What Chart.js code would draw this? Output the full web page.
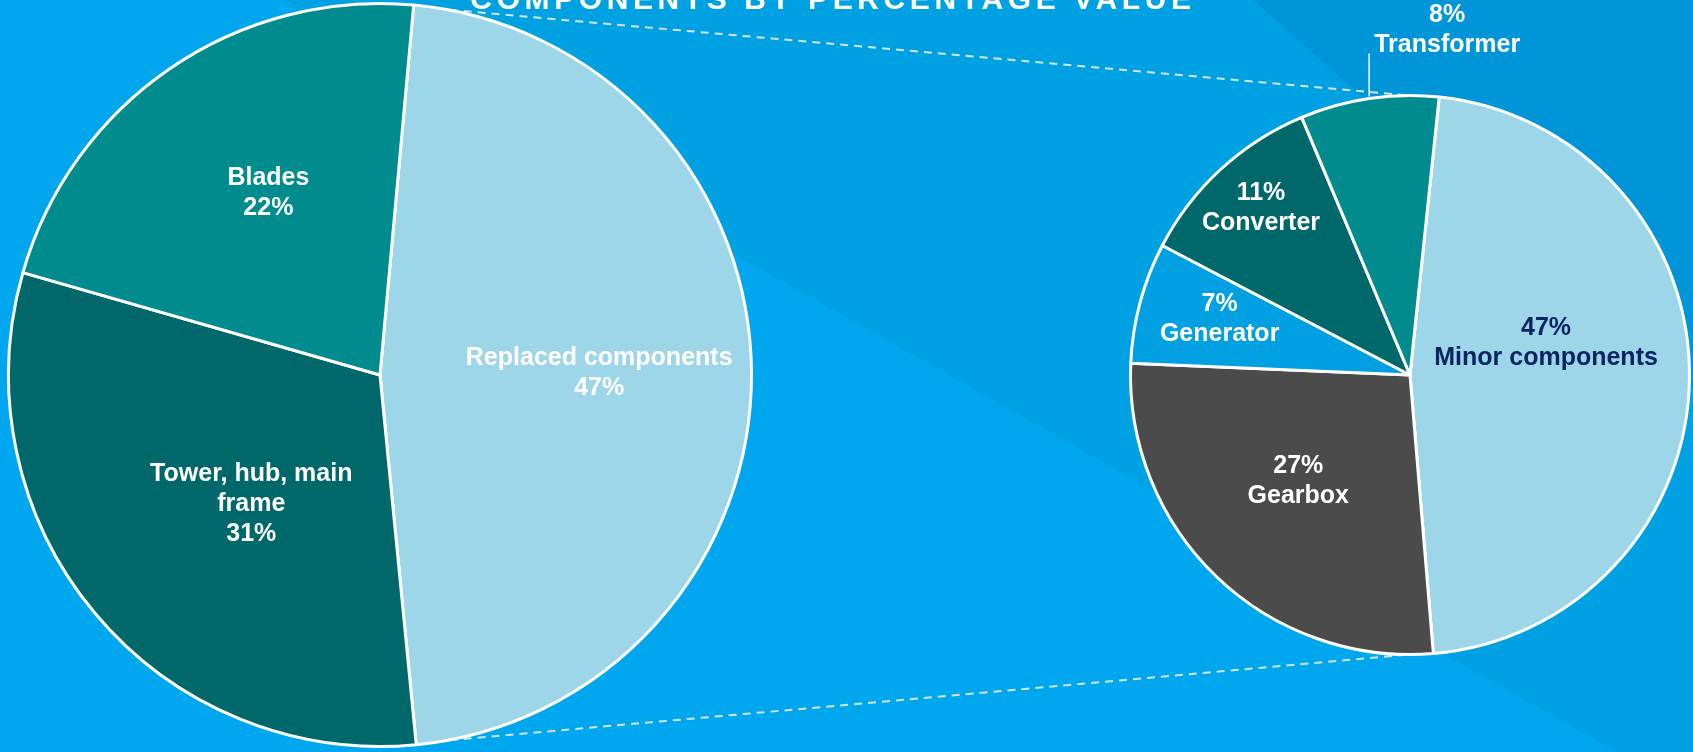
<!DOCTYPE html>
<html>
<head>
<meta charset="utf-8">
<script src="https://cdn.jsdelivr.net/npm/chart.js@4"></script>
<style>
html, body { margin: 0; padding: 0; background: #00a6ee; overflow: hidden; }
#wrap { position: relative; width: 1693px; height: 752px; }
#wrap canvas { position: absolute; left: 0; top: 0; }
</style>
</head>
<body>
<div id="wrap">
  <canvas id="overview" width="1693" height="752"></canvas>
  <canvas id="detail" width="1693" height="752"></canvas>
</div>
<script>
// data
const overviewLabels = [['Replaced components'], ['Tower, hub, main', 'frame'], ['Blades']];
const overviewValues = [47, 31, 22];
const detailLabels = ['Minor components', 'Gearbox', 'Generator', 'Converter', 'Transformer'];
const detailValues = [47, 27, 7, 11, 8];
const titleText = 'COMPONENTS BY PERCENTAGE VALUE';

const FONT = 'bold 25px "Liberation Sans", Arial, sans-serif';
const LINE_H = 30;
const rad = Math.PI / 180;

// label placement inside each slice: fraction of radius + angle shift (deg)
const overviewPlace = [
  { frac: 0.59, shift: -0.3 },
  { frac: 0.49, shift: -5.2 },
  { frac: 0.575, shift: 2.9 }
];
const detailPlace = [
  { frac: 0.50, shift: -13.8, color: '#0c2461' },
  { frac: 0.55, shift: 2.8 },
  { frac: 0.71, shift: 1.4 },
  { frac: 0.80, shift: 0.8 },
  { outside: true, rise: 45, dx: 78 }
];

function pointAt(arc, frac, shift) {
  const p = arc.getProps(['x', 'y', 'startAngle', 'endAngle', 'outerRadius'], true);
  const a = (p.startAngle + p.endAngle) / 2 + shift * rad;
  const r = p.outerRadius * frac;
  return { x: p.x + Math.cos(a) * r, y: p.y + Math.sin(a) * r };
}

function drawLines(ctx, lines, x, y) {
  const top = y - (lines.length - 1) * LINE_H / 2;
  lines.forEach((t, i) => ctx.fillText(t, x, top + i * LINE_H));
}

function sliceLabels(place, textFor) {
  return {
    id: 'sliceLabels',
    afterDatasetsDraw(chart) {
      const ctx = chart.ctx;
      const arcs = chart.getDatasetMeta(0).data;
      ctx.save();
      ctx.font = FONT;
      ctx.textAlign = 'center';
      ctx.textBaseline = 'middle';
      arcs.forEach((arc, i) => {
        const pl = place[i];
        const lines = textFor(i);
        ctx.fillStyle = pl.color || '#ffffff';
        if (pl.outside) {
          const p = pointAt(arc, 1, 0);
          const topY = p.y - pl.rise;
          ctx.strokeStyle = '#ffffff';
          ctx.lineWidth = 1.5;
          ctx.beginPath();
          ctx.moveTo(p.x, p.y - 2);
          ctx.lineTo(p.x, topY);
          ctx.stroke();
          drawLines(ctx, lines, p.x + pl.dx, topY - 8 - (lines.length - 1) * LINE_H / 2);
        } else {
          const p = pointAt(arc, pl.frac, pl.shift);
          drawLines(ctx, lines, p.x, p.y);
        }
      });
      ctx.restore();
    }
  };
}

const detailChart = new Chart(document.getElementById('detail'), {
  type: 'pie',
  data: {
    labels: detailLabels,
    datasets: [{
      data: detailValues,
      backgroundColor: ['#9dd6e9', '#4b4b4b', '#00a0e3', '#00686a', '#008b8e'],
      borderColor: '#ffffff',
      borderWidth: 3
    }]
  },
  options: {
    responsive: false,
    animation: false,
    events: [],
    rotation: 6,
    layout: { padding: { left: 1129, right: 2, top: 94, bottom: 96 } },
    plugins: { legend: { display: false }, tooltip: { enabled: false } }
  },
  plugins: [sliceLabels(detailPlace, i => [detailValues[i] + '%', detailLabels[i]])]
});

const backdrop = {
  id: 'backdrop',
  beforeDraw(chart) {
    const ctx = chart.ctx;
    const w = chart.width, h = chart.height;
    ctx.save();
    ctx.fillStyle = '#00a6ee';
    ctx.fillRect(0, 0, w, h);
    ctx.fillStyle = '#00a1e3';
    ctx.beginPath();
    ctx.moveTo(284, 0); ctx.lineTo(w, 0); ctx.lineTo(w, h); ctx.lineTo(1617, h);
    ctx.closePath(); ctx.fill();
    ctx.fillStyle = '#0095d8';
    ctx.beginPath();
    ctx.moveTo(1253, 0); ctx.lineTo(w, 0); ctx.lineTo(w, 390);
    ctx.closePath(); ctx.fill();
    // title, clipped by the top edge
    ctx.fillStyle = '#ffffff';
    ctx.font = 'bold 30px "Liberation Sans", Arial, sans-serif';
    ctx.letterSpacing = '4.6px';
    ctx.textAlign = 'center';
    ctx.textBaseline = 'alphabetic';
    ctx.fillText(titleText, 833, 9);
    ctx.restore();
  },
  beforeDatasetsDraw(chart) {
    // dashed connectors from the big pie to the detail pie
    const a = chart.getDatasetMeta(0).data[0].getProps(['x', 'y', 'outerRadius'], true);
    const b = detailChart.getDatasetMeta(0).data[0].getProps(['x', 'y', 'outerRadius'], true);
    const ctx = chart.ctx;
    ctx.save();
    ctx.strokeStyle = '#cfe7f3';
    ctx.lineWidth = 2;
    ctx.setLineDash([8, 6]);
    ctx.beginPath();
    ctx.moveTo(a.x, a.y - a.outerRadius);
    ctx.lineTo(b.x, b.y - b.outerRadius);
    ctx.moveTo(a.x, a.y + a.outerRadius);
    ctx.lineTo(b.x, b.y + b.outerRadius);
    ctx.stroke();
    ctx.restore();
  }
};

new Chart(document.getElementById('overview'), {
  type: 'pie',
  data: {
    labels: overviewLabels,
    datasets: [{
      data: overviewValues,
      backgroundColor: ['#9dd6e9', '#00686a', '#008b8e'],
      borderColor: '#ffffff',
      borderWidth: 3
    }]
  },
  options: {
    responsive: false,
    animation: false,
    events: [],
    rotation: 5.2,
    layout: { padding: { left: 7, right: 940, top: 2, bottom: 4 } },
    plugins: { legend: { display: false }, tooltip: { enabled: false } }
  },
  plugins: [backdrop, sliceLabels(overviewPlace, i => overviewLabels[i].concat(overviewValues[i] + '%'))]
});
</script>
</body>
</html>
